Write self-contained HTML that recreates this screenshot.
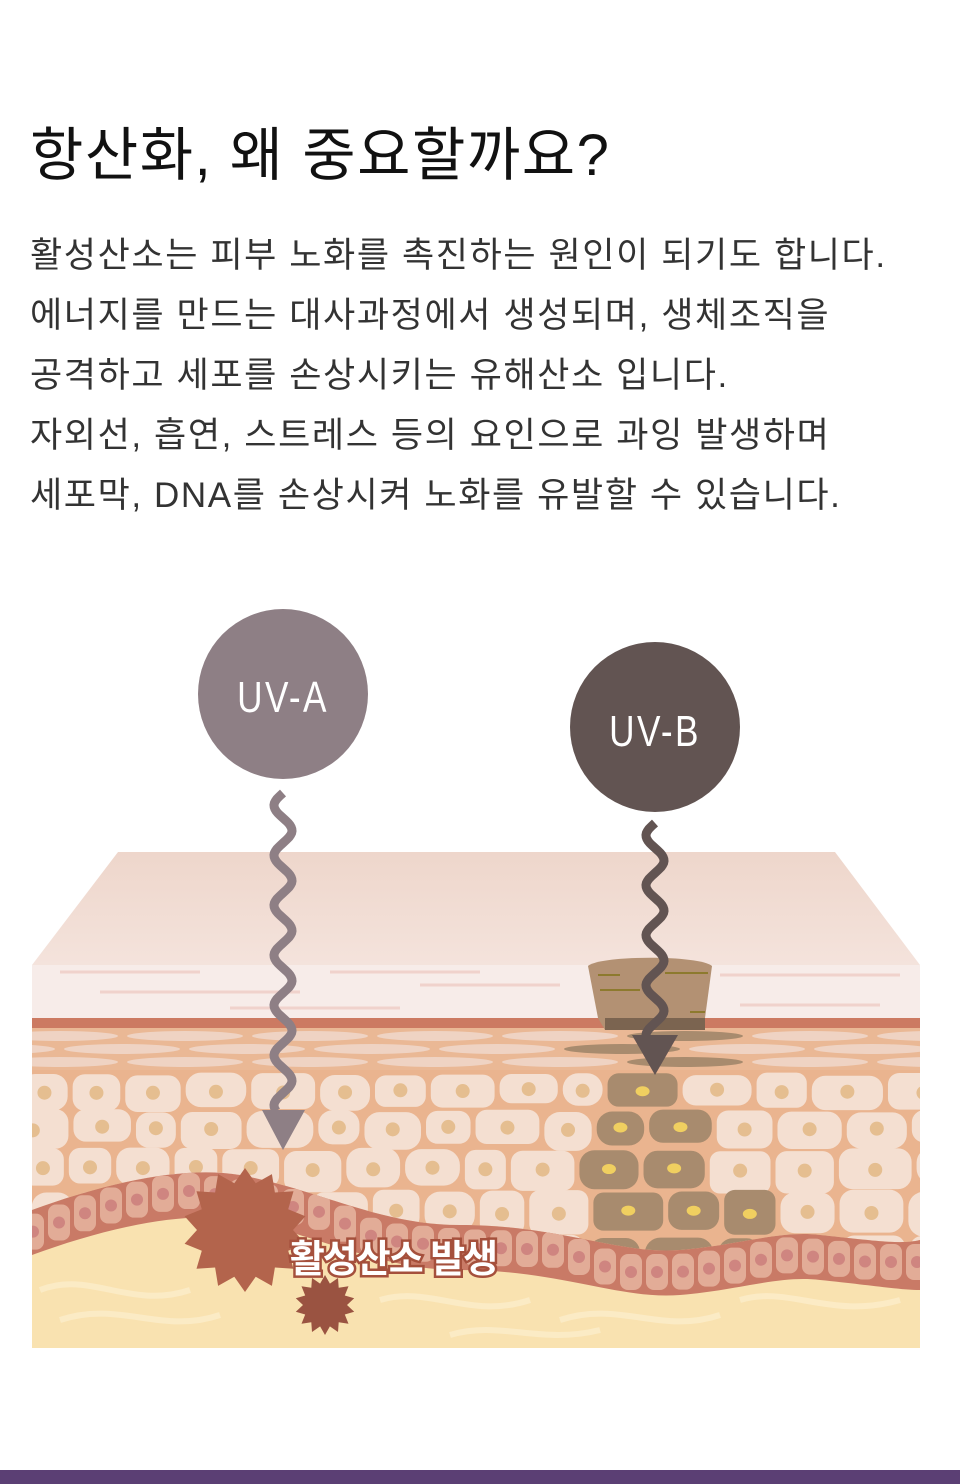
<!DOCTYPE html>
<html><head><meta charset="utf-8"><style>
html,body{margin:0;padding:0;background:#fff;}
body{width:960px;height:1484px;position:relative;overflow:hidden;font-family:"Liberation Sans","Noto Sans CJK KR",sans-serif;}
h1{position:absolute;left:30px;top:108px;margin:0;font-size:58px;font-weight:400;color:#111;letter-spacing:1.5px;white-space:nowrap;}
.body{position:absolute;left:30px;top:226px;font-size:35px;line-height:60px;color:#333;letter-spacing:1.6px;white-space:nowrap;}
.bar{position:absolute;left:0;top:1470px;width:960px;height:14px;background:#5b3f74;}
svg{position:absolute;left:0;top:0;}
</style></head><body>
<h1>항산화, 왜 중요할까요?</h1>
<div class="body">활성산소는 피부 노화를 촉진하는 원인이 되기도 합니다.<br>에너지를 만드는 대사과정에서 생성되며, 생체조직을<br>공격하고 세포를 손상시키는 유해산소 입니다.<br>자외선, 흡연, 스트레스 등의 요인으로 과잉 발생하며<br>세포막, DNA를 손상시켜 노화를 유발할 수 있습니다.</div>
<svg id="s" width="960" height="1484" viewBox="0 0 960 1484">
<defs>
<linearGradient id="tg" x1="0" y1="0" x2="0" y2="1"><stop offset="0" stop-color="#eed6cb"/><stop offset="1" stop-color="#f4e3dc"/></linearGradient>
<clipPath id="cl"><path d="M32,1070 H920 V1240 C900,1245 870,1240 820,1235 C780,1230 740,1245 680,1250 C620,1255 560,1225 460,1225 C380,1225 320,1190 240,1175 C180,1165 100,1185 32,1210 Z"/></clipPath>
<clipPath id="lc"><rect x="32" y="1028" width="888" height="45"/></clipPath>
<clipPath id="bl"><path d="M32,1210 C100,1185 180,1165 240,1175 C320,1190 380,1225 460,1225 C560,1225 620,1255 680,1250 C740,1245 780,1230 820,1235 C870,1240 900,1245 920,1240 V1290 C900,1290 870,1285 820,1280 C780,1275 740,1290 680,1295 C620,1300 560,1270 460,1270 C380,1270 320,1235 240,1220 C180,1210 100,1230 32,1255 Z"/></clipPath>
</defs>
<rect x="32" y="1180" width="888" height="168" fill="#f9e2b0"/>
<g stroke="#fcecc8" stroke-width="6" fill="none" opacity="0.9">
<path d="M40,1290 C90,1270 130,1310 190,1290"/><path d="M60,1320 C120,1300 160,1335 220,1315"/><path d="M380,1300 C430,1285 470,1320 530,1300"/><path d="M560,1320 C620,1300 660,1335 720,1315"/><path d="M740,1300 C790,1285 830,1320 900,1300"/><path d="M450,1335 C500,1320 540,1345 600,1330"/>
</g>
<polygon points="118,852 835,852 920,965 32,965" fill="url(#tg)"/>
<rect x="32" y="965" width="888" height="53" fill="#f7ece9"/>
<g stroke="#f0d2cc" stroke-width="3"><line x1="60" y1="972" x2="200" y2="972"/><line x1="100" y1="992" x2="300" y2="992"/><line x1="230" y1="1008" x2="400" y2="1008"/><line x1="420" y1="985" x2="560" y2="985"/><line x1="720" y1="975" x2="900" y2="975"/><line x1="740" y1="1005" x2="880" y2="1005"/><line x1="330" y1="972" x2="480" y2="972"/></g>
<rect x="32" y="1018" width="888" height="10" fill="#cc7a62"/>
<rect x="32" y="1028" width="888" height="45" fill="#eab895"/>
<g id="lens" clip-path="url(#lc)"></g>
<g clip-path="url(#cl)"><rect x="32" y="1065" width="888" height="200" fill="#eab48f"/><g id="cells"></g></g>
<g clip-path="url(#bl)"><rect x="32" y="1160" width="888" height="150" fill="#c97a66"/><g id="basal"></g></g>
<path d="M588,966 C600,955 700,955 712,966 L705,1018 L700,1030 L605,1030 L598,1018 Z" fill="#b39173"/>
<rect x="605" y="1018" width="100" height="12" fill="#7b6450"/>
<g stroke="#8d7a2e" stroke-width="2"><line x1="598" y1="975" x2="620" y2="975"/><line x1="665" y1="973" x2="708" y2="973"/><line x1="600" y1="990" x2="640" y2="990"/><line x1="690" y1="1012" x2="705" y2="1012"/></g>
<g id="stars"></g>
<circle cx="283" cy="694" r="85" fill="#8e7f85"/>
<circle cx="655" cy="727" r="85" fill="#625452"/>
<g transform="translate(283,712) scale(0.8,1)"><text x="0" y="0" text-anchor="middle" font-size="44" fill="#fff" font-family="Liberation Sans, sans-serif" letter-spacing="3">UV-A</text></g>
<g transform="translate(655,746) scale(0.8,1)"><text x="0" y="0" text-anchor="middle" font-size="44" fill="#fff" font-family="Liberation Sans, sans-serif" letter-spacing="3">UV-B</text></g>
<path id="wa" fill="none" stroke="#8e7f85" stroke-width="9"/>
<polygon points="262,1110 305,1110 283,1150" fill="#8e7f85"/>
<path id="wb" fill="none" stroke="#625452" stroke-width="9"/>
<polygon points="632,1035 678,1035 655,1075" fill="#625452"/>
<text x="393" y="1272" text-anchor="middle" font-size="38" font-weight="bold" fill="#fff" stroke="#a5503c" stroke-width="5" paint-order="stroke" font-family="Liberation Sans, Noto Sans CJK KR, sans-serif" letter-spacing="-2">활성산소 발생</text>
</svg>
<div class="bar"></div>
<script>
var NS="http://www.w3.org/2000/svg";
function el(p,t,a){var e=document.createElementNS(NS,t);for(var k in a)e.setAttribute(k,a[k]);document.getElementById(p).appendChild(e);return e;}
function wave(x,y0,y1,amp){var d="M"+x+","+y0;for(var y=y0;y<=y1;y+=2){d+=" L"+(x+amp*Math.sin((y-y0)/50*2*Math.PI)).toFixed(1)+","+y;}return d;}
document.getElementById("wa").setAttribute("d",wave(283,793,1112,-9));
document.getElementById("wb").setAttribute("d",wave(655,823,1037,-9));
for(var r=0;r<3;r++){for(var i=-1;i<9;i++){var cx=60+i*125+(r%2)*62,cy=1036+r*13;
var dark=(cx>560&&cx<720);
el("lens","ellipse",{cx:cx,cy:cy,rx:58,ry:5,fill:dark?"#a88b6e":"#efd3c3"});}}
var seed=3;function rnd(){seed=(seed*9301+49297)%233280;return seed/233280;}
var y=1072;
for(var row=0;row<6;row++){var h=34+row*3;
for(var x=32-rnd()*40;x<930;){var w=44+rnd()*34;var hh=h+rnd()*8;var cx=x+w/2,cy=y+hh/2;
var dark=(cy>1080&&Math.abs(cx-(655+(cy-1090)*0.2))<40+row*14);
el("cells","rect",{x:x+2.5,y:y+2.5+rnd()*4-2,width:w-5,height:hh-5,rx:10+rnd()*6,fill:dark?"#a88b6e":"#f4dfd1"});
el("cells","ellipse",{cx:cx,cy:cy,rx:dark?7:7,ry:dark?5:7,fill:dark?"#f0cf60":"#e5be90"});
x+=w;}
y+=h+2;}
var pts=[[32,1232],[100,1208],[180,1190],[240,1197],[320,1212],[380,1240],[460,1247],[560,1250],[620,1272],[680,1272],[740,1265],[780,1255],[820,1257],[870,1262],[920,1262]];
function yAt(x){for(var i=0;i<pts.length-1;i++){if(x>=pts[i][0]&&x<=pts[i+1][0]){var t=(x-pts[i][0])/(pts[i+1][0]-pts[i][0]);return pts[i][1]+t*(pts[i+1][1]-pts[i][1]);}}return 1262;}
for(var x=20;x<930;x+=26){var cy=yAt(x+13);el("basal","rect",{x:x+2,y:cy-18,width:22,height:36,rx:8,fill:"#e2ac97"});el("basal","circle",{cx:x+13,cy:cy,r:6,fill:"#cf8580"});}
function star(cx,cy,r1,r2,n,f){var d="";for(var i=0;i<2*n;i++){var a=i*Math.PI/n,r=i%2?r2:r1;d+=(i?"L":"M")+(cx+r*Math.sin(a)).toFixed(1)+","+(cy-r*Math.cos(a)).toFixed(1);}el("stars","path",{d:d+"Z",fill:f});}
star(245,1230,62,48,14,"#b3644c");
star(325,1305,30,22,14,"#9a5341");
</script>
</body></html>
